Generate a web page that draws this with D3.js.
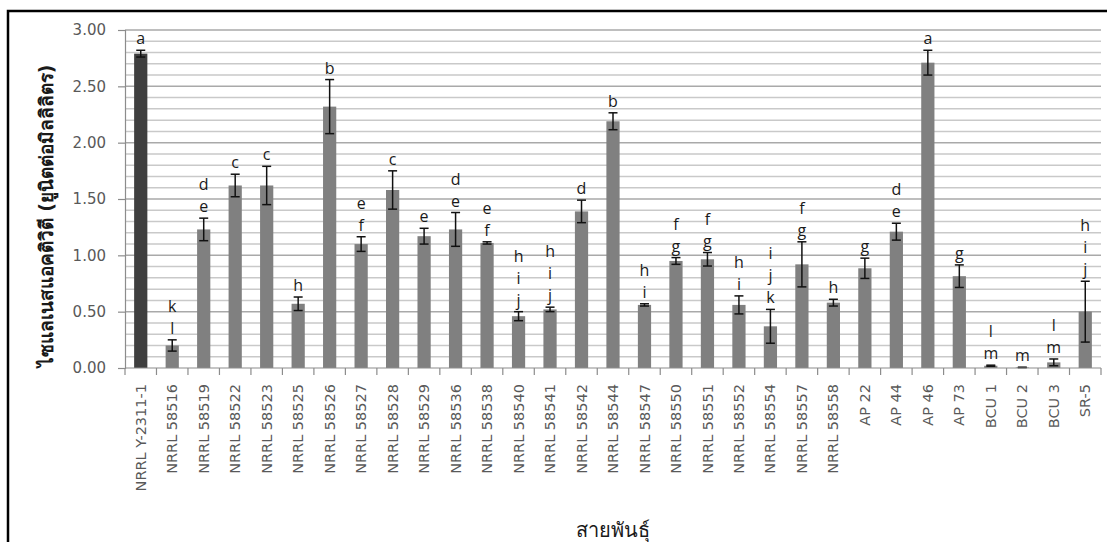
<!DOCTYPE html>
<html>
<head>
<meta charset="utf-8">
<script src="https://cdn.jsdelivr.net/npm/d3@7"></script>
<style>
  body { margin: 0; background: #fff; }
  text { font-family: "DejaVu Sans", sans-serif; }
</style>
</head>
<body>
<div id="chart"></div>
<script>
var strains = ["NRRL Y-2311-1", "NRRL 58516", "NRRL 58519", "NRRL 58522", "NRRL 58523", "NRRL 58525",
    "NRRL 58526", "NRRL 58527", "NRRL 58528", "NRRL 58529", "NRRL 58536", "NRRL 58538", "NRRL 58540",
    "NRRL 58541", "NRRL 58542", "NRRL 58544", "NRRL 58547", "NRRL 58550", "NRRL 58551", "NRRL 58552",
    "NRRL 58554", "NRRL 58557", "NRRL 58558", "AP 22", "AP 44", "AP 46", "AP 73", "BCU 1", "BCU 2",
    "BCU 3", "SR-5"];
var activity = [2.79, 0.20, 1.23, 1.62, 1.62, 0.57, 2.32, 1.10, 1.58, 1.17, 1.23, 1.11, 0.46, 0.52,
    1.39, 2.19, 0.56, 0.95, 0.965, 0.56, 0.37, 0.92, 0.58, 0.885, 1.21, 2.71, 0.815, 0.02, 0.005,
    0.05, 0.50];
var errors = [0.03, 0.05, 0.10, 0.10, 0.17, 0.06, 0.24, 0.065, 0.17, 0.07, 0.15, 0.01, 0.04, 0.02,
    0.10, 0.075, 0.01, 0.03, 0.06, 0.08, 0.15, 0.20, 0.03, 0.09, 0.075, 0.11, 0.10, 0.005, 0.002,
    0.03, 0.27];
var groups = ["a", "kl", "de", "c", "c", "h", "b", "ef", "c", "e", "de", "ef", "hij", "hij", "d",
    "b", "hi", "fg", "fg", "hi", "ijk", "fg", "h", "g", "de", "a", "g", "lm", "m", "lm", "hij"];
var yTicks = [0, 0.5, 1, 1.5, 2, 2.5, 3];

function init() {
    var w = 1107;
    var h = 542;
    var left = 125, right = 1101, top = 30, bottom = 368;

    var svg = d3.select("#chart")
        .append("svg")
        .attr("width", w)
        .attr("height", h);

    svg.append("rect").attr("width", w).attr("height", h).attr("fill", "#fff");

    // outer frame (only left and top edges are visible)
    svg.append("path")
        .attr("d", "M8," + h + "V11H" + w)
        .attr("fill", "none")
        .attr("stroke", "#000")
        .attr("stroke-width", 2.5);

    var xScale = d3.scaleBand()
        .domain(strains)
        .range([left, right])
        .paddingInner(0.58)
        .paddingOuter(0.29);

    var yScale = d3.scaleLinear()
        .domain([0, 3])
        .range([bottom, top]);

    // gridlines every 0.1
    var grid = d3.range(1, 31).map(function (i) { return i / 10; });
    svg.append("g").selectAll("line")
        .data(grid)
        .enter().append("line")
        .attr("x1", left)
        .attr("x2", right)
        .attr("y1", function (d) { return yScale(d); })
        .attr("y2", function (d) { return yScale(d); })
        .attr("stroke", function (d, i) { return (i + 1) % 5 === 0 ? "#a9a9a9" : "#c9c9c9"; })
        .attr("stroke-width", 1.5);

    // y axis
    var yAxis = d3.axisLeft(yScale)
        .tickValues(yTicks)
        .tickSize(7)
        .tickPadding(12)
        .tickFormat(d3.format(".2f"));
    var gy = svg.append("g")
        .attr("transform", "translate(" + left + ",0)")
        .call(yAxis);
    gy.select(".domain").attr("stroke", "#8c8c8c").attr("stroke-width", 1.2);
    gy.selectAll(".tick line").attr("stroke", "#8c8c8c").attr("stroke-width", 1.2);
    gy.selectAll(".tick text")
        .attr("fill", "#595959")
        .style("font-size", "15px")
        .style("font-family", "DejaVu Sans");

    // bars
    svg.append("g").selectAll("rect")
        .data(strains)
        .enter().append("rect")
        .attr("x", function (d) { return xScale(d); })
        .attr("width", xScale.bandwidth())
        .attr("y", function (d, i) { return yScale(activity[i]); })
        .attr("height", function (d, i) { return yScale(0) - yScale(activity[i]); })
        .attr("fill", function (d, i) { return i === 0 ? "#3f3f3f" : "#808080"; });

    // error bars
    var eb = svg.append("g").selectAll("g")
        .data(strains)
        .enter().append("g")
        .attr("stroke", "#111")
        .attr("stroke-width", 1.5);
    var cx = function (d) { return xScale(d) + xScale.bandwidth() / 2; };
    eb.append("line")
        .attr("x1", cx).attr("x2", cx)
        .attr("y1", function (d, i) { return yScale(activity[i] + errors[i]); })
        .attr("y2", function (d, i) { return yScale(Math.max(0, activity[i] - errors[i])); });
    eb.append("line")
        .attr("x1", function (d) { return cx(d) - 4.5; })
        .attr("x2", function (d) { return cx(d) + 4.5; })
        .attr("y1", function (d, i) { return yScale(activity[i] + errors[i]); })
        .attr("y2", function (d, i) { return yScale(activity[i] + errors[i]); });
    eb.append("line")
        .attr("x1", function (d) { return cx(d) - 4.5; })
        .attr("x2", function (d) { return cx(d) + 4.5; })
        .attr("y1", function (d, i) { return yScale(Math.max(0, activity[i] - errors[i])); })
        .attr("y2", function (d, i) { return yScale(Math.max(0, activity[i] - errors[i])); });

    // significance letters, stacked one per line inside a single label
    var lineH = 22;
    strains.forEach(function (s, i) {
        var letters = groups[i].split("");
        var base = yScale(activity[i] + errors[i]) - 6;
        var label = svg.append("text")
            .attr("text-anchor", "middle")
            .attr("fill", "#1a1a1a")
            .style("font-family", "Open Sans")
            .style("font-size", "16px");
        letters.forEach(function (l, j) {
            label.append("tspan")
                .attr("x", cx(s))
                .attr("y", base - (letters.length - 1 - j) * lineH)
                .text(l);
        });
    });

    // x axis
    svg.append("line")
        .attr("x1", left).attr("x2", right)
        .attr("y1", bottom).attr("y2", bottom)
        .attr("stroke", "#8c8c8c").attr("stroke-width", 1.2);
    var step = xScale.step();
    svg.append("g").selectAll("line")
        .data(d3.range(strains.length + 1))
        .enter().append("line")
        .attr("x1", function (d) { return left + d * step; })
        .attr("x2", function (d) { return left + d * step; })
        .attr("y1", bottom)
        .attr("y2", bottom + 7)
        .attr("stroke", "#8c8c8c").attr("stroke-width", 1.2);

    svg.append("g").selectAll("text")
        .data(strains)
        .enter().append("text")
        .attr("transform", function (d) { return "translate(" + cx(d) + "," + (bottom + 16) + ") rotate(-90)"; })
        .attr("text-anchor", "end")
        .attr("dy", "0.35em")
        .attr("fill", "#595959")
        .style("font-size", "14.5px")
        .text(function (d) { return d; });

    // axis titles
    svg.append("text")
        .attr("transform", "translate(53,216) rotate(-90)")
        .attr("text-anchor", "middle")
        .attr("fill", "#1a1a1a")
        .style("font-size", "19px")
        .style("font-weight", "bold")
        .text("ไซแลเนสแอคติวิตี (ยูนิตต่อมิลลิลิตร)");

    svg.append("text")
        .attr("x", (left + right) / 2)
        .attr("y", 537)
        .attr("text-anchor", "middle")
        .attr("fill", "#1a1a1a")
        .style("font-size", "20px")
        .text("สายพันธุ์");
}

window.onload = init;
</script>
</body>
</html>
